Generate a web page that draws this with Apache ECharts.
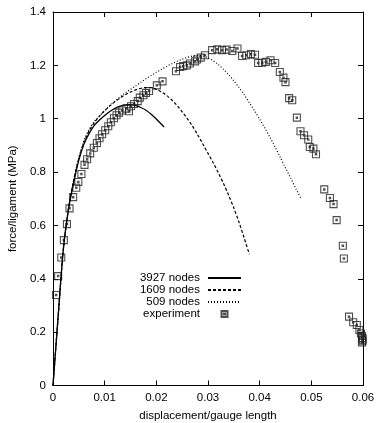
<!DOCTYPE html>
<html>
<head>
<meta charset="utf-8">
<script src="https://cdn.jsdelivr.net/npm/echarts@6/dist/echarts.min.js"></script>
<style>html,body{margin:0;padding:0;background:#fff}#c{width:377px;height:423px}</style>
</head>
<body>
<div id="c"></div>
<script>
// ---- data ----
const seriesNames = ['3927 nodes', '1609 nodes', '509 nodes', 'experiment'];
const xTicks = [0, 0.01, 0.02, 0.03, 0.04, 0.05, 0.06];
const yTicks = [0, 0.2, 0.4, 0.6, 0.8, 1, 1.2, 1.4];

const n3927X = [0, 0.001, 0.002, 0.003, 0.004, 0.005, 0.006, 0.007, 0.008, 0.009, 0.010, 0.011, 0.012, 0.013, 0.014, 0.015, 0.016, 0.017, 0.018, 0.019, 0.020, 0.0215];
const n3927Y = [0, 0.26, 0.51, 0.66, 0.76, 0.845, 0.905, 0.945, 0.975, 0.995, 1.012, 1.027, 1.039, 1.047, 1.052, 1.053, 1.049, 1.042, 1.032, 1.017, 0.999, 0.969];

const n1609X = [0, 0.001, 0.002, 0.003, 0.004, 0.005, 0.006, 0.007, 0.008, 0.009, 0.010, 0.011, 0.012, 0.013, 0.014, 0.015, 0.016, 0.017, 0.018, 0.019, 0.020, 0.021, 0.022, 0.023, 0.024, 0.025, 0.026, 0.027, 0.028, 0.029, 0.030, 0.031, 0.032, 0.033, 0.034, 0.035, 0.036, 0.037, 0.038];
const n1609Y = [0, 0.26, 0.51, 0.665, 0.77, 0.85, 0.91, 0.955, 0.985, 1.01, 1.03, 1.048, 1.064, 1.078, 1.09, 1.1, 1.108, 1.114, 1.117, 1.116, 1.11, 1.1, 1.087, 1.07, 1.05, 1.026, 1.0, 0.972, 0.94, 0.905, 0.87, 0.835, 0.797, 0.757, 0.713, 0.665, 0.612, 0.553, 0.492];

const n509X = [0, 0.001, 0.002, 0.003, 0.004, 0.005, 0.006, 0.007, 0.008, 0.009, 0.010, 0.011, 0.012, 0.013, 0.014, 0.015, 0.016, 0.017, 0.018, 0.019, 0.020, 0.021, 0.022, 0.023, 0.024, 0.025, 0.026, 0.027, 0.028, 0.029, 0.030, 0.031, 0.032, 0.033, 0.034, 0.035, 0.036, 0.037, 0.038, 0.039, 0.040, 0.041, 0.042, 0.043, 0.044, 0.045, 0.046, 0.047, 0.0481];
const n509Y = [0, 0.26, 0.51, 0.665, 0.77, 0.855, 0.92, 0.96, 0.99, 1.01, 1.03, 1.05, 1.066, 1.082, 1.097, 1.11, 1.123, 1.137, 1.15, 1.162, 1.174, 1.185, 1.196, 1.206, 1.215, 1.223, 1.23, 1.235, 1.237, 1.235, 1.228, 1.217, 1.203, 1.185, 1.165, 1.142, 1.117, 1.09, 1.06, 1.03, 0.998, 0.965, 0.93, 0.893, 0.855, 0.815, 0.778, 0.738, 0.697];

const expX = [0.0006, 0.0010, 0.0016, 0.0021, 0.0027, 0.0032, 0.0039, 0.0045, 0.0049, 0.0055,
              0.0061, 0.0066, 0.0072, 0.0079, 0.0085, 0.0090, 0.0095, 0.0101, 0.0107, 0.0112,
              0.0118, 0.0123, 0.0128, 0.0134, 0.0142, 0.0147, 0.0151, 0.0157, 0.0164, 0.0168,
              0.0175, 0.0180, 0.0186, 0.0201, 0.0212, 0.0238, 0.0246, 0.0252, 0.0259, 0.0265,
              0.0275, 0.0279, 0.0286, 0.0294, 0.0308, 0.0318, 0.0327, 0.0336, 0.0347, 0.0357,
              0.0366, 0.0374, 0.0383, 0.0391, 0.0397, 0.0405, 0.0412, 0.0421, 0.0430, 0.0439,
              0.0446, 0.0450, 0.0457, 0.0463, 0.0472, 0.0479, 0.0486, 0.0494, 0.0497, 0.0504,
              0.0509, 0.0525, 0.0536, 0.0543, 0.0549, 0.0561, 0.0563, 0.0573, 0.0581, 0.0588,
              0.0593, 0.0596, 0.0598, 0.0599, 0.0599, 0.0599, 0.0598];
const expY = [0.339, 0.410, 0.480, 0.545, 0.605, 0.664, 0.706, 0.741, 0.763, 0.793,
              0.827, 0.848, 0.870, 0.891, 0.909, 0.927, 0.942, 0.957, 0.972, 0.987,
              1.002, 1.013, 1.023, 1.031, 1.038, 1.028, 1.047, 1.055, 1.066, 1.079,
              1.088, 1.097, 1.104, 1.125, 1.140, 1.178, 1.194, 1.197, 1.200, 1.207,
              1.215, 1.222, 1.229, 1.238, 1.257, 1.260, 1.257, 1.259, 1.254, 1.263,
              1.235, 1.238, 1.242, 1.240, 1.209, 1.210, 1.213, 1.219, 1.209, 1.175,
              1.154, 1.137, 1.077, 1.069, 1.004, 0.953, 0.938, 0.922, 0.894, 0.888,
              0.867, 0.735, 0.703, 0.680, 0.620, 0.524, 0.476, 0.258, 0.237, 0.227,
              0.208, 0.195, 0.186, 0.178, 0.172, 0.166, 0.161];

// ---- build ----
const pairs = (xs, ys) => xs.map((x, i) => [x, ys[i]]);
const FONT = 'Liberation Sans';
const FS = 11.5;

const chart = echarts.init(document.getElementById('c'), null, {renderer: 'canvas'});

const axisCommon = {
  type: 'value',
  axisLine: {show: true, onZero: false, lineStyle: {color: '#000', width: 1}},
  axisTick: {show: true, inside: true, length: 5, lineStyle: {color: '#000', width: 1}},
  splitLine: {show: false}
};

const hiddenSymbol = {color: 'rgba(0,0,0,0)', borderColor: 'rgba(0,0,0,0)', borderWidth: 0};

chart.setOption({
  animation: false,
  backgroundColor: '#fff',
  grid: {left: 53, right: 14, top: 12, bottom: 37.5, containLabel: false, outerBoundsMode: 'none'},
  xAxis: [
    Object.assign({}, axisCommon, {
      position: 'bottom', min: xTicks[0], max: xTicks[xTicks.length - 1], interval: 0.01,
      name: 'displacement/gauge length', nameLocation: 'middle', nameGap: 24,
      nameTextStyle: {color: '#000', fontFamily: FONT, fontSize: FS},
      axisLabel: {color: '#000', fontFamily: FONT, fontSize: FS, margin: 6}
    }),
    Object.assign({}, axisCommon, {
      position: 'top', min: xTicks[0], max: xTicks[xTicks.length - 1], interval: 0.01,
      axisLabel: {show: false}
    })
  ],
  yAxis: [
    Object.assign({}, axisCommon, {
      position: 'left', min: yTicks[0], max: yTicks[yTicks.length - 1], interval: 0.2,
      name: 'force/ligament (MPa)', nameLocation: 'middle', nameGap: 34,
      nameTextStyle: {color: '#000', fontFamily: FONT, fontSize: FS},
      axisLabel: {color: '#000', fontFamily: FONT, fontSize: FS, margin: 7}
    }),
    Object.assign({}, axisCommon, {
      position: 'right', min: yTicks[0], max: yTicks[yTicks.length - 1], interval: 0.2,
      axisLabel: {show: false}
    })
  ],
  legend: {
    orient: 'vertical',
    align: 'right',
    right: 135,
    top: 272,
    padding: 0,
    itemWidth: 33,
    itemHeight: 6,
    itemGap: 0,
    textStyle: {color: '#000', fontFamily: FONT, fontSize: FS, lineHeight: 12, padding: [0, 3, 0, 0]},
    data: [
      {name: seriesNames[0], itemStyle: hiddenSymbol},
      {name: seriesNames[1], itemStyle: hiddenSymbol},
      {name: seriesNames[2], itemStyle: hiddenSymbol},
      {name: seriesNames[3]}
    ]
  },
  series: [
    {
      name: seriesNames[0], type: 'line', data: pairs(n3927X, n3927Y),
      symbol: 'none', smooth: 0.3, color: '#000',
      lineStyle: {color: '#000', width: 1.3, type: 'solid'}
    },
    {
      name: seriesNames[1], type: 'line', data: pairs(n1609X, n1609Y),
      symbol: 'none', smooth: 0.3, color: '#000',
      lineStyle: {color: '#000', width: 1.2, type: [3, 2]}
    },
    {
      name: seriesNames[2], type: 'line', data: pairs(n509X, n509Y),
      symbol: 'none', smooth: 0.3, color: '#000',
      lineStyle: {color: '#000', width: 1.2, type: [1, 2]}
    },
    {
      name: seriesNames[3], type: 'scatter', data: pairs(expX, expY),
      symbol: 'path://M0,0L10,0L10,10L0,10Z M4,4L6,4L6,6L4,6Z',
      symbolSize: 7,
      itemStyle: {color: 'rgba(255,255,255,0)', borderColor: '#222', borderWidth: 1.1}
    }
  ]
});
</script>
</body>
</html>
